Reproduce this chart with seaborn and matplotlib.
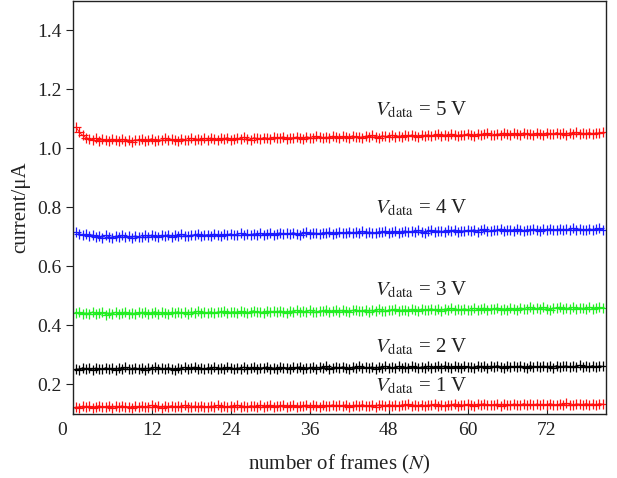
import numpy as np
import pandas as pd
import matplotlib
matplotlib.use("Agg")
import matplotlib.pyplot as plt
import matplotlib.transforms as mtransforms
import seaborn as sns

sns.set_theme(style="white")
plt.rcParams['font.family'] = ['Liberation Serif', 'DejaVu Serif']
plt.rcParams['mathtext.fontset'] = 'stix'

frames = np.arange(0.5, 80.75, 0.5)  # frame positions

v5 = [1.072, 1.055, 1.044, 1.037, 1.033, 1.030, 1.034, 1.026, 1.031, 1.027, 1.024, 1.032, 1.028, 1.025, 1.031, 1.026, 1.029, 1.023, 1.030, 1.027,
      1.031, 1.025, 1.029, 1.033, 1.026, 1.030, 1.028, 1.034, 1.027, 1.031, 1.029, 1.025, 1.033, 1.030, 1.027, 1.035, 1.029, 1.032, 1.028, 1.034,
      1.030, 1.036, 1.031, 1.028, 1.034, 1.032, 1.037, 1.030, 1.033, 1.035, 1.031, 1.038, 1.033, 1.030, 1.036, 1.034, 1.031, 1.037, 1.035, 1.032,
      1.038, 1.034, 1.036, 1.040, 1.033, 1.037, 1.035, 1.039, 1.036, 1.033, 1.040, 1.037, 1.035, 1.041, 1.038, 1.034, 1.039, 1.036, 1.042, 1.038,
      1.035, 1.041, 1.039, 1.037, 1.043, 1.038, 1.040, 1.036, 1.042, 1.039, 1.044, 1.040, 1.037, 1.043, 1.041, 1.038, 1.045, 1.040, 1.042, 1.039,
      1.044, 1.041, 1.046, 1.042, 1.039, 1.045, 1.043, 1.047, 1.041, 1.044, 1.048, 1.043, 1.046, 1.042, 1.049, 1.045, 1.043, 1.047, 1.044, 1.050,
      1.046, 1.043, 1.049, 1.045, 1.048, 1.051, 1.046, 1.044, 1.050, 1.047, 1.052, 1.048, 1.045, 1.051, 1.049, 1.046, 1.053, 1.048, 1.050, 1.047,
      1.052, 1.049, 1.046, 1.053, 1.050, 1.048, 1.054, 1.049, 1.051, 1.047, 1.053, 1.050, 1.055, 1.048, 1.052, 1.050, 1.054, 1.049, 1.053, 1.051, 1.055]

v4 = [0.716, 0.711, 0.706, 0.709, 0.703, 0.707, 0.700, 0.704, 0.698, 0.705, 0.701, 0.697, 0.703, 0.699, 0.706, 0.700, 0.702, 0.698, 0.704, 0.701,
      0.699, 0.705, 0.701, 0.707, 0.702, 0.700, 0.706, 0.703, 0.708, 0.701, 0.705, 0.703, 0.709, 0.704, 0.702, 0.707, 0.705, 0.710, 0.703, 0.706,
      0.708, 0.704, 0.710, 0.706, 0.703, 0.709, 0.707, 0.711, 0.705, 0.708, 0.712, 0.706, 0.709, 0.707, 0.711, 0.708, 0.713, 0.706, 0.710, 0.712,
      0.708, 0.711, 0.714, 0.709, 0.712, 0.710, 0.715, 0.711, 0.708, 0.713, 0.716, 0.711, 0.714, 0.712, 0.709, 0.715, 0.713, 0.717, 0.711, 0.714,
      0.716, 0.712, 0.715, 0.718, 0.713, 0.716, 0.714, 0.719, 0.712, 0.717, 0.715, 0.713, 0.718, 0.716, 0.720, 0.714, 0.717, 0.719, 0.715, 0.718,
      0.721, 0.716, 0.719, 0.717, 0.722, 0.718, 0.715, 0.720, 0.723, 0.717, 0.721, 0.719, 0.716, 0.722, 0.720, 0.724, 0.718, 0.721, 0.719, 0.723,
      0.720, 0.725, 0.718, 0.722, 0.726, 0.721, 0.719, 0.724, 0.722, 0.727, 0.720, 0.723, 0.725, 0.721, 0.726, 0.723, 0.720, 0.725, 0.722, 0.727,
      0.724, 0.721, 0.726, 0.723, 0.728, 0.722, 0.725, 0.727, 0.723, 0.726, 0.724, 0.729, 0.722, 0.727, 0.725, 0.723, 0.728, 0.724, 0.726, 0.729, 0.725]

v3 = [0.441, 0.445, 0.438, 0.443, 0.440, 0.446, 0.439, 0.442, 0.444, 0.437, 0.443, 0.440, 0.445, 0.438, 0.442, 0.446, 0.440, 0.443, 0.439, 0.444,
      0.441, 0.446, 0.439, 0.443, 0.447, 0.440, 0.444, 0.442, 0.438, 0.445, 0.443, 0.447, 0.441, 0.444, 0.440, 0.446, 0.443, 0.448, 0.442, 0.445,
      0.443, 0.447, 0.441, 0.446, 0.444, 0.449, 0.442, 0.445, 0.447, 0.443, 0.448, 0.445, 0.442, 0.447, 0.450, 0.444, 0.446, 0.443, 0.449, 0.446,
      0.448, 0.444, 0.450, 0.446, 0.443, 0.449, 0.447, 0.451, 0.445, 0.448, 0.446, 0.452, 0.447, 0.444, 0.450, 0.448, 0.453, 0.446, 0.449, 0.451,
      0.447, 0.452, 0.449, 0.446, 0.451, 0.454, 0.448, 0.450, 0.453, 0.447, 0.452, 0.449, 0.455, 0.450, 0.448, 0.453, 0.451, 0.456, 0.449, 0.452,
      0.454, 0.450, 0.455, 0.452, 0.449, 0.456, 0.451, 0.454, 0.457, 0.452, 0.455, 0.450, 0.456, 0.453, 0.458, 0.451, 0.455, 0.453, 0.457, 0.454,
      0.452, 0.458, 0.454, 0.456, 0.459, 0.453, 0.457, 0.455, 0.460, 0.454, 0.457, 0.452, 0.459, 0.456, 0.454, 0.460, 0.457, 0.455, 0.461, 0.456,
      0.458, 0.455, 0.461, 0.457, 0.454, 0.460, 0.458, 0.462, 0.456, 0.459, 0.457, 0.461, 0.455, 0.460, 0.458, 0.456, 0.462, 0.457, 0.459, 0.461, 0.458]

v2 = [0.254, 0.250, 0.257, 0.252, 0.255, 0.249, 0.256, 0.253, 0.251, 0.257, 0.252, 0.255, 0.250, 0.256, 0.253, 0.258, 0.251, 0.254, 0.257, 0.252,
      0.255, 0.250, 0.256, 0.253, 0.258, 0.251, 0.255, 0.252, 0.257, 0.254, 0.250, 0.256, 0.253, 0.258, 0.252, 0.255, 0.259, 0.253, 0.256, 0.251,
      0.257, 0.254, 0.259, 0.252, 0.256, 0.253, 0.258, 0.255, 0.251, 0.257, 0.254, 0.259, 0.253, 0.256, 0.258, 0.252, 0.257, 0.255, 0.260, 0.254,
      0.256, 0.253, 0.259, 0.255, 0.257, 0.252, 0.258, 0.256, 0.260, 0.254, 0.257, 0.255, 0.259, 0.253, 0.258, 0.256, 0.261, 0.254, 0.257, 0.259,
      0.255, 0.260, 0.257, 0.253, 0.259, 0.256, 0.261, 0.255, 0.258, 0.256, 0.260, 0.254, 0.259, 0.257, 0.262, 0.256, 0.258, 0.255, 0.261, 0.257,
      0.259, 0.256, 0.261, 0.258, 0.255, 0.260, 0.257, 0.262, 0.256, 0.259, 0.261, 0.257, 0.263, 0.258, 0.256, 0.261, 0.259, 0.257, 0.262, 0.258,
      0.260, 0.257, 0.263, 0.259, 0.261, 0.256, 0.262, 0.258, 0.264, 0.260, 0.257, 0.262, 0.259, 0.261, 0.258, 0.263, 0.260, 0.257, 0.264, 0.259,
      0.261, 0.258, 0.263, 0.260, 0.262, 0.257, 0.264, 0.259, 0.261, 0.263, 0.258, 0.262, 0.260, 0.265, 0.259, 0.262, 0.260, 0.264, 0.258, 0.263, 0.261]

v1 = [0.125, 0.121, 0.127, 0.123, 0.126, 0.120, 0.124, 0.128, 0.122, 0.125, 0.127, 0.121, 0.126, 0.123, 0.128, 0.122, 0.125, 0.120, 0.126, 0.124,
      0.127, 0.122, 0.125, 0.129, 0.123, 0.126, 0.121, 0.127, 0.124, 0.128, 0.122, 0.126, 0.124, 0.129, 0.123, 0.125, 0.127, 0.122, 0.128, 0.125,
      0.123, 0.127, 0.125, 0.129, 0.124, 0.126, 0.122, 0.128, 0.125, 0.130, 0.124, 0.127, 0.123, 0.128, 0.126, 0.124, 0.129, 0.125, 0.127, 0.130,
      0.124, 0.128, 0.126, 0.130, 0.125, 0.127, 0.129, 0.124, 0.128, 0.126, 0.131, 0.125, 0.129, 0.127, 0.124, 0.130, 0.126, 0.128, 0.131, 0.126,
      0.129, 0.127, 0.131, 0.125, 0.128, 0.130, 0.126, 0.132, 0.128, 0.127, 0.130, 0.125, 0.131, 0.129, 0.127, 0.132, 0.128, 0.130, 0.126, 0.131,
      0.129, 0.133, 0.127, 0.130, 0.128, 0.132, 0.126, 0.131, 0.129, 0.133, 0.128, 0.130, 0.127, 0.132, 0.130, 0.134, 0.128, 0.131, 0.129, 0.133,
      0.130, 0.128, 0.133, 0.131, 0.135, 0.129, 0.132, 0.130, 0.134, 0.128, 0.133, 0.131, 0.129, 0.134, 0.132, 0.130, 0.135, 0.131, 0.133, 0.129,
      0.134, 0.131, 0.133, 0.130, 0.135, 0.132, 0.129, 0.134, 0.131, 0.136, 0.132, 0.130, 0.134, 0.133, 0.131, 0.135, 0.132, 0.134, 0.130, 0.135, 0.133]

series_names = ["5 V", "4 V", "3 V", "2 V", "1 V"]
series_values = [v5, v4, v3, v2, v1]
series_colors = ["#ff1010", "#1a1aff", "#22ee22", "#000000", "#ff1010"]
label_x = [45.9, 45.9, 45.9, 45.9, 45.9]
label_y = [1.112, 0.78, 0.502, 0.308, 0.176]

x_ticks = [0, 12, 24, 36, 48, 60, 72]
y_ticks = [0.2, 0.4, 0.6, 0.8, 1.0, 1.2, 1.4]

fig = plt.figure(figsize=(6.17, 4.78), dpi=100)
ax = fig.add_axes([0.118, 0.134, 0.864, 0.864])

for name, vals, col in zip(series_names, series_values, series_colors):
    df = pd.DataFrame({"frame": frames, "current": vals})
    sns.lineplot(data=df, x="frame", y="current", color=col, marker="+",
                 markersize=6.5, markeredgewidth=0.9, markeredgecolor=col,
                 markerfacecolor=col, linewidth=0.7, ax=ax,
                 estimator=None, sort=False)

for name, lx, ly in zip(series_names, label_x, label_y):
    ax.text(lx, ly, r"$V_{\mathrm{data}}$" + " = " + name, fontsize=15,
            color="#222222", ha="left", va="baseline")

ax.set_xlim(0, 81)
ax.set_ylim(0.1, 1.5)
ax.set_xticks(x_ticks)
ax.set_xticklabels([str(t) for t in x_ticks])
ax.set_yticks(y_ticks)
ax.set_yticklabels([f"{t:.1f}" for t in y_ticks])
ax.tick_params(axis="x", direction="in", length=5, width=0.8, labelsize=14,
               colors="#222222", pad=6, bottom=True)
ax.tick_params(axis="y", direction="out", length=5, width=0.8, labelsize=14,
               colors="#222222", pad=3, left=True)
for s in ax.spines.values():
    s.set_color("#222222")
    s.set_linewidth(1.0)
    s.set_visible(True)

# shift the origin label slightly left as in reference
lbl0 = ax.get_xticklabels()[0]
lbl0.set_transform(lbl0.get_transform() + mtransforms.ScaledTranslation(-11/100, 0, fig.dpi_scale_trans))

ax.set_xlabel(r"number of frames ($N$)", fontsize=15, color="#222222", labelpad=10)
ax.set_ylabel("current/μA", fontsize=15, color="#222222", labelpad=5)
ax.grid(False)

fig.savefig("out.png", dpi=100)
